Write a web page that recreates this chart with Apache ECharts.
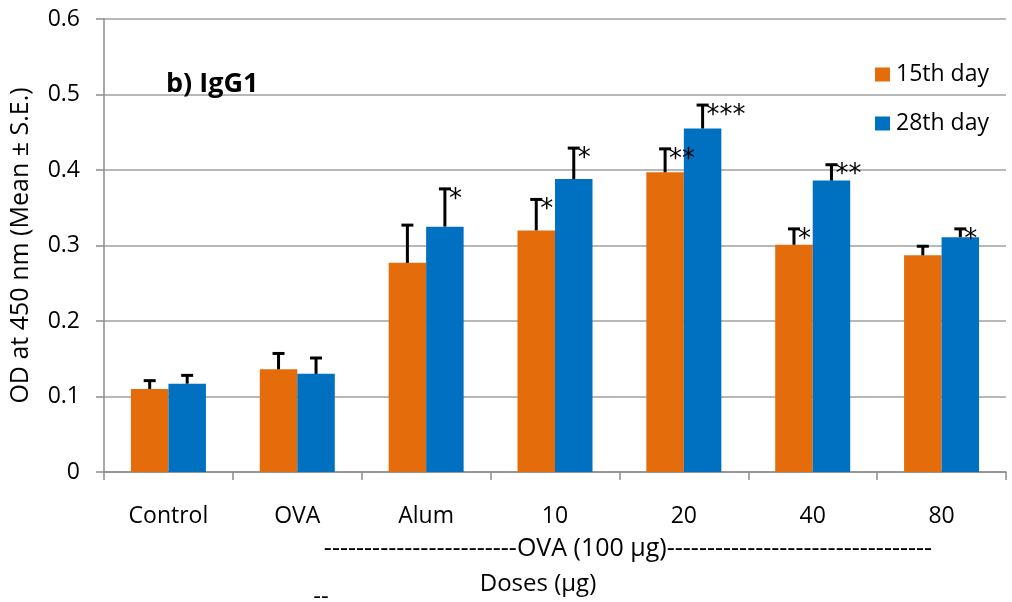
<!DOCTYPE html>
<html>
<head>
<meta charset="utf-8">
<script src="https://cdn.jsdelivr.net/npm/echarts@6/dist/echarts.min.js"></script>
<style>
  html, body { margin: 0; padding: 0; background: #fff; }
  #chart { width: 1012px; height: 602px; }
</style>
</head>
<body>
<div id="chart"></div>
<script>
const categories = ['Control', 'OVA', 'Alum', '10', '20', '40', '80'];
const seriesNames = ['15th day', '28th day'];
const day15 = [0.110, 0.136, 0.277, 0.320, 0.397, 0.301, 0.287];
const day28 = [0.117, 0.130, 0.325, 0.388, 0.455, 0.386, 0.311];
const err15 = [0.011, 0.021, 0.050, 0.041, 0.031, 0.021, 0.012];
const err28 = [0.011, 0.021, 0.050, 0.041, 0.031, 0.021, 0.011];
const stars15 = ['', '', '', '*', '**', '*', ''];
const stars28 = ['', '', '*', '*', '***', '**', '*'];
const yTicks = [0, 0.1, 0.2, 0.3, 0.4, 0.5, 0.6];

const FONT = '"Open Sans", "DejaVu Sans", sans-serif';
const STAR_FONT = '"DejaVu Sans", sans-serif';
const ORANGE = '#E46C0A';
const BLUE = '#0070C0';
const BAR_W = 37.5;

function errSeries(name, vals, errs, stars, sign) {
  return {
    name: name + ' err',
    type: 'custom',
    z: 5,
    silent: true,
    encode: { x: 0, y: 1 },
    data: vals.map((v, i) => [i, v, errs[i]]),
    renderItem: function (params, api) {
      const idx = api.value(0);
      const v = api.value(1);
      const e = api.value(2);
      const star = stars[idx];
      const base = api.coord([idx, v]);
      const top = api.coord([idx, v + e]);
      const x = base[0] + sign * BAR_W / 2;
      const children = [
        { type: 'line', shape: { x1: x, y1: base[1], x2: x, y2: top[1] },
          style: { stroke: '#000', lineWidth: 3 } },
        { type: 'line', shape: { x1: x - 6, y1: top[1], x2: x + 6, y2: top[1] },
          style: { stroke: '#000', lineWidth: 3 } }
      ];
      if (star) {
        children.push({
          type: 'text',
          style: {
            text: star, x: x + 4, y: top[1] + 11,
            fill: '#000', font: '26px ' + STAR_FONT,
            textAlign: 'left', textVerticalAlign: 'middle'
          }
        });
      }
      return { type: 'group', children: children };
    }
  };
}

const chart = echarts.init(document.getElementById('chart'), null, { renderer: 'canvas' });
chart.setOption({
  animation: false,
  backgroundColor: '#fff',
  textStyle: { fontFamily: FONT, color: '#000' },
  title: {
    text: 'b) IgG1', left: 166, top: 71, padding: 0,
    textStyle: { fontFamily: FONT, fontSize: 27, fontWeight: 'bold', color: '#000' }
  },
  legend: {
    orient: 'vertical', left: 875, top: 63, padding: 0,
    itemWidth: 15, itemHeight: 14, itemGap: 26,
    icon: 'rect',
    data: seriesNames,
    textStyle: { fontFamily: FONT, fontSize: 23, color: '#000', padding: [0, 0, 0, 1] }
  },
  grid: { left: 104, right: 6, top: 19, bottom: 130 },
  xAxis: {
    type: 'category',
    data: categories,
    axisLine: { lineStyle: { color: '#8c8c8c', width: 1.5 } },
    axisTick: { show: true, length: 8, lineStyle: { color: '#8c8c8c', width: 1.5 } },
    axisLabel: { fontFamily: FONT, fontSize: 23, color: '#000', margin: 33 },
    splitLine: { show: false }
  },
  yAxis: {
    type: 'value',
    min: 0, max: 0.6, interval: 0.1,
    name: 'OD at 450 nm (Mean \u00B1 S.E.)',
    nameLocation: 'middle', nameGap: 71, nameRotate: 90,
    nameTextStyle: { fontFamily: FONT, fontSize: 25, color: '#000' },
    axisLine: { show: true, lineStyle: { color: '#8c8c8c', width: 1.5 } },
    axisTick: { show: true, length: 8, lineStyle: { color: '#8c8c8c', width: 1.5 } },
    axisLabel: {
      fontFamily: FONT, fontSize: 23, color: '#000', margin: 24,
      formatter: function (v) {
        const t = yTicks.find(y => Math.abs(y - v) < 1e-9);
        return t === 0 ? '0' : (t !== undefined ? t.toFixed(1) : '');
      }
    },
    splitLine: { show: true, lineStyle: { color: '#a0a0a0', width: 1.5 } }
  },
  series: [
    { name: seriesNames[0], type: 'bar', data: day15, barWidth: BAR_W, barGap: '0%',
      itemStyle: { color: ORANGE }, z: 2 },
    { name: seriesNames[1], type: 'bar', data: day28, barWidth: BAR_W, barGap: '0%',
      itemStyle: { color: BLUE }, z: 2 },
    errSeries(seriesNames[0], day15, err15, stars15, -1),
    errSeries(seriesNames[1], day28, err28, stars28, 1)
  ],
  graphic: [
    { type: 'text', silent: true,
      style: { text: '------------------------OVA (100 \u03BCg)---------------------------------',
        x: 628, y: 549, fill: '#000', font: '25px ' + FONT,
        textAlign: 'center', textVerticalAlign: 'middle' } },
    { type: 'text', silent: true,
      style: { text: 'Doses (\u03BCg)', x: 538, y: 584, fill: '#000', font: '24px ' + FONT,
        textAlign: 'center', textVerticalAlign: 'middle' } },
    { type: 'text', silent: true,
      style: { text: '--', x: 321, y: 597, fill: '#000', font: '24px ' + FONT,
        textAlign: 'center', textVerticalAlign: 'middle' } }
  ]
});
</script>
</body>
</html>
